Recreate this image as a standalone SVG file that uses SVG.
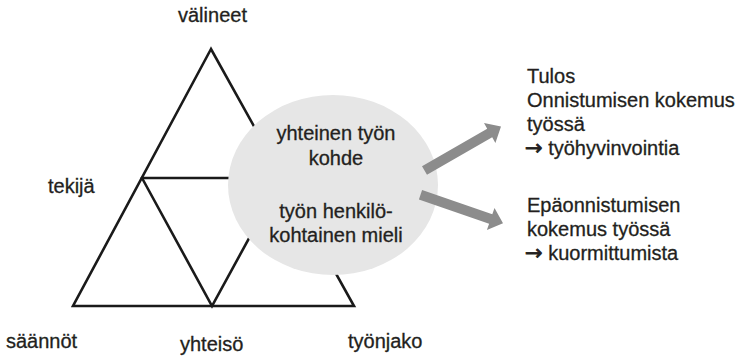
<svg xmlns="http://www.w3.org/2000/svg" width="737" height="357" viewBox="0 0 737 357">
  <style>
    .t { font-family: "Liberation Sans", Arial, sans-serif; font-size: 20px; fill: #231f20; stroke: #231f20; stroke-width: 0.3; }
    .c { text-anchor: middle; }
    .ar { font-family: "DejaVu Sans", sans-serif; font-size: 21px; stroke-width: 0.8; }
    .edge { stroke: #1a1a1a; stroke-width: 2.6; fill: none; stroke-linejoin: miter; stroke-linecap: round; }
    .arrow { fill: #8c8c8c; stroke: none; }
  </style>
  <rect width="737" height="357" fill="#ffffff"/>

  <g id="triangle">
    <polygon class="edge" points="211,49 73,306 354,306"/>
    <polyline class="edge" points="142,178 282,178"/>
    <polyline class="edge" points="142,178 212,306 282,178"/>
  </g>

  <g id="kohde">
    <ellipse cx="333" cy="185" rx="105" ry="90" fill="#e6e6e6"/>
    <text class="t c" x="336" y="140">yhteinen työn</text>
    <text class="t c" x="336" y="165">kohde</text>
    <text class="t c" x="336" y="218">työn henkilö-</text>
    <text class="t c" x="336" y="242">kohtainen mieli</text>
  </g>

  <g id="valineet"><text class="t" x="178" y="22">välineet</text></g>
  <g id="tekija"><text class="t" x="48" y="193">tekijä</text></g>
  <g id="saannot"><text class="t" x="6" y="348">säännöt</text></g>
  <g id="yhteiso"><text class="t" x="180" y="351">yhteisö</text></g>
  <g id="tyonjako"><text class="t" x="348" y="348">työnjako</text></g>

  <g id="tulos">
    <text class="t" x="527" y="83">Tulos</text>
    <text class="t" x="527" y="107">Onnistumisen kokemus</text>
    <text class="t" x="527" y="131">työssä</text>
    <text class="t" x="525" y="155"><tspan class="ar">→</tspan> työhyvinvointia</text>
  </g>

  <g id="epaonnistuminen">
    <text class="t" x="527" y="212">Epäonnistumisen</text>
    <text class="t" x="527" y="236">kokemus työssä</text>
    <text class="t" x="525" y="260"><tspan class="ar">→</tspan> kuormittumista</text>
  </g>

  <g id="connectors">
    <polygon class="arrow" points="422,166.2 487.2,128.7 484,123 501,126.5 495.4,143 492.2,137.3 427,174.8"/>
    <polygon class="arrow" points="422.1,190 492.3,214.3 494.5,208.1 503,223.3 486.9,229.9 489.1,223.7 418.9,199.4"/>
  </g>
</svg>
